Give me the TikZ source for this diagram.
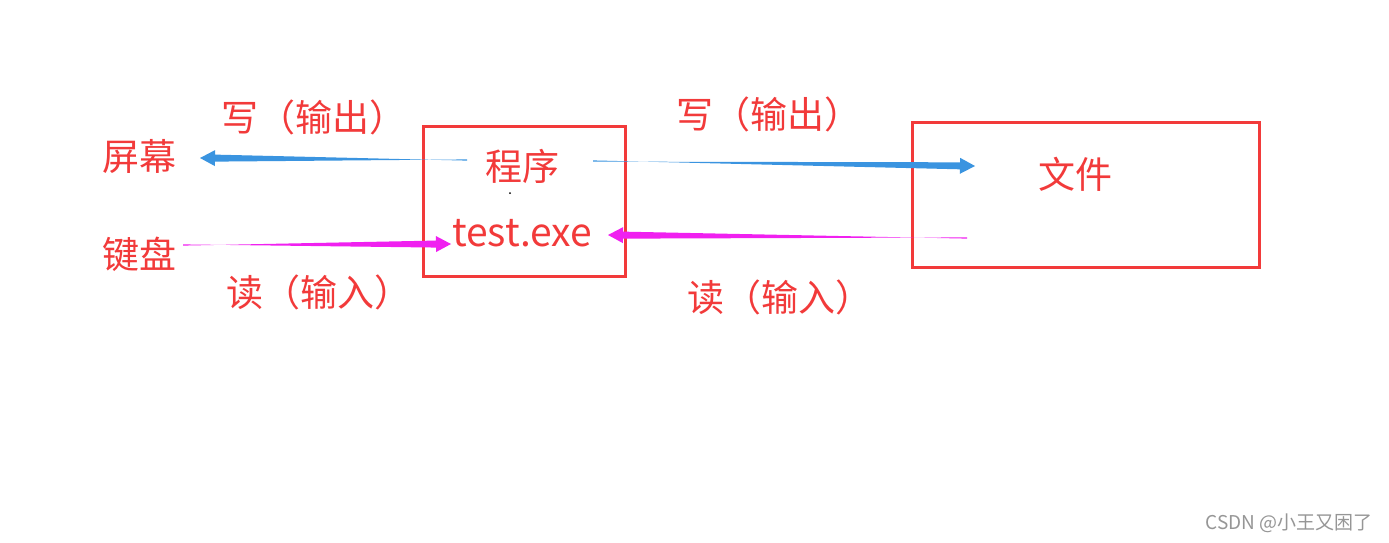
\documentclass[tikz,border=0pt]{standalone}
\usepackage{fontspec}
\setmainfont{Noto Sans CJK SC}
\usetikzlibrary{calc}
\definecolor{myred}{RGB}{242,58,58}
\definecolor{myblue}{RGB}{58,148,224}
\definecolor{mymag}{RGB}{240,32,240}
\definecolor{wmgray}{RGB}{150,150,150}
\newcommand\taperarrow[3]{%
  \fill[#3] ($(#1)!0.6pt!90:(#2)$)
    -- ($($(#2)!15pt!(#1)$)!3.5pt!-90:(#2)$)
    -- ($($(#2)!15pt!(#1)$)!8pt!-90:(#2)$)
    -- (#2)
    -- ($($(#2)!15pt!(#1)$)!8pt!90:(#2)$)
    -- ($($(#2)!15pt!(#1)$)!3.5pt!90:(#2)$)
    -- ($(#1)!0.6pt!-90:(#2)$) -- cycle;}
\begin{document}
\begin{tikzpicture}[x=1pt,y=-1pt,
  lbl/.style={text=myred,font=\fontsize{37}{42}\selectfont,inner sep=0pt},
  boxstyle/.style={draw=myred,line width=3pt},
  wm/.style={text=wmgray,font=\fontsize{19}{22}\selectfont,inner sep=0pt}]
\fill[white] (0,0) rectangle (1389,542);
\useasboundingbox (0,0) rectangle (1389,542);
% boxes
\draw[boxstyle] (423,126) rectangle (625,276);
\draw[boxstyle] (912,122) rectangle (1259,267);
% text nodes
\node[lbl] (prog) at (522,166) {程序};
\node[lbl,font=\fontsize{39}{44}\selectfont] (exe) at (522,233) {test.exe};
\node[lbl] (file) at (1075,174) {文件};
\node[lbl] (screen) at (139,156) {屏幕};
\node[lbl] (kbd) at (139,254) {键盘};
\node[lbl] (w1) at (314,117) {写（输出）};
\node[lbl] (w2) at (769,114) {写（输出）};
\node[lbl] (r1) at (319,292) {读（输入）};
\node[lbl] (r2) at (780,297) {读（输入）};
\node[wm] (mark) at (1289,523) {CSDN @小王又困了};
% arrow endpoints
\coordinate (bl1) at (467,160);
\coordinate (bl2) at (200,158);
\coordinate (br1) at (593,161);
\coordinate (br2) at (975,166);
\coordinate (ml1) at (183,245);
\coordinate (ml2) at (451,244);
\coordinate (mr1) at (967,238);
\coordinate (mr2) at (608,235);
\taperarrow{bl1}{bl2}{myblue}
\taperarrow{br1}{br2}{myblue}
\taperarrow{ml1}{ml2}{mymag}
\taperarrow{mr1}{mr2}{mymag}
% tiny dot
\fill[black] (510,193) circle (1pt);
\end{tikzpicture}
\end{document}
